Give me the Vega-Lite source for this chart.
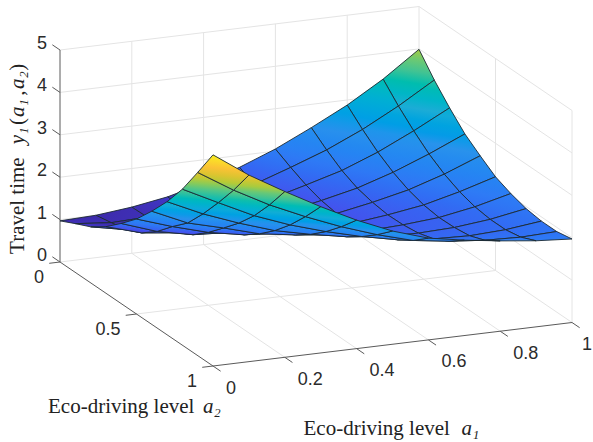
{"$schema":"https://vega.github.io/schema/vega-lite/v6.json","width":593,"height":442,"padding":0,"autosize":"none","background":"white","config":{"view":{"stroke":null}},
"datasets":{"grid":[
{"p":110,"a1":1.0,"a2":0.0,"z":3.99},{"p":111,"a1":1.0,"a2":0.1,"z":3.51},{"p":112,"a1":1.0,"a2":0.2,"z":3.10},{"p":113,"a1":1.0,"a2":0.3,"z":2.73},{"p":114,"a1":1.0,"a2":0.4,"z":2.46},{"p":115,"a1":1.0,"a2":0.5,"z":2.21},{"p":116,"a1":1.0,"a2":0.6,"z":2.06},{"p":117,"a1":1.0,"a2":0.7,"z":1.95},{"p":118,"a1":1.0,"a2":0.8,"z":1.90},{"p":119,"a1":1.0,"a2":0.9,"z":1.90},{"p":120,"a1":1.0,"a2":1.0,"z":1.97},
{"p":99,"a1":0.9,"a2":0.0,"z":3.39},{"p":100,"a1":0.9,"a2":0.1,"z":3.00},{"p":101,"a1":0.9,"a2":0.2,"z":2.66},{"p":102,"a1":0.9,"a2":0.3,"z":2.36},{"p":103,"a1":0.9,"a2":0.4,"z":2.13},{"p":104,"a1":0.9,"a2":0.5,"z":1.96},{"p":105,"a1":0.9,"a2":0.6,"z":1.85},{"p":106,"a1":0.9,"a2":0.7,"z":1.80},{"p":107,"a1":0.9,"a2":0.8,"z":1.80},{"p":108,"a1":0.9,"a2":0.9,"z":1.87},{"p":109,"a1":0.9,"a2":1.0,"z":2.03},
{"p":88,"a1":0.8,"a2":0.0,"z":2.88},{"p":89,"a1":0.8,"a2":0.1,"z":2.55},{"p":90,"a1":0.8,"a2":0.2,"z":2.26},{"p":91,"a1":0.8,"a2":0.3,"z":2.03},{"p":92,"a1":0.8,"a2":0.4,"z":1.86},{"p":93,"a1":0.8,"a2":0.5,"z":1.75},{"p":94,"a1":0.8,"a2":0.6,"z":1.70},{"p":95,"a1":0.8,"a2":0.7,"z":1.71},{"p":96,"a1":0.8,"a2":0.8,"z":1.76},{"p":97,"a1":0.8,"a2":0.9,"z":1.90},{"p":98,"a1":0.8,"a2":1.0,"z":2.13},
{"p":77,"a1":0.7,"a2":0.0,"z":2.45},{"p":78,"a1":0.7,"a2":0.1,"z":2.17},{"p":79,"a1":0.7,"a2":0.2,"z":1.93},{"p":80,"a1":0.7,"a2":0.3,"z":1.76},{"p":81,"a1":0.7,"a2":0.4,"z":1.67},{"p":82,"a1":0.7,"a2":0.5,"z":1.62},{"p":83,"a1":0.7,"a2":0.6,"z":1.63},{"p":84,"a1":0.7,"a2":0.7,"z":1.68},{"p":85,"a1":0.7,"a2":0.8,"z":1.79},{"p":86,"a1":0.7,"a2":0.9,"z":1.98},{"p":87,"a1":0.7,"a2":1.0,"z":2.25},
{"p":66,"a1":0.6,"a2":0.0,"z":2.05},{"p":67,"a1":0.6,"a2":0.1,"z":1.86},{"p":68,"a1":0.6,"a2":0.2,"z":1.69},{"p":69,"a1":0.6,"a2":0.3,"z":1.57},{"p":70,"a1":0.6,"a2":0.4,"z":1.51},{"p":71,"a1":0.6,"a2":0.5,"z":1.52},{"p":72,"a1":0.6,"a2":0.6,"z":1.59},{"p":73,"a1":0.6,"a2":0.7,"z":1.70},{"p":74,"a1":0.6,"a2":0.8,"z":1.87},{"p":75,"a1":0.6,"a2":0.9,"z":2.10},{"p":76,"a1":0.6,"a2":1.0,"z":2.40},
{"p":55,"a1":0.5,"a2":0.0,"z":1.72},{"p":56,"a1":0.5,"a2":0.1,"z":1.57},{"p":57,"a1":0.5,"a2":0.2,"z":1.46},{"p":58,"a1":0.5,"a2":0.3,"z":1.40},{"p":59,"a1":0.5,"a2":0.4,"z":1.40},{"p":60,"a1":0.5,"a2":0.5,"z":1.47},{"p":61,"a1":0.5,"a2":0.6,"z":1.60},{"p":62,"a1":0.5,"a2":0.7,"z":1.80},{"p":63,"a1":0.5,"a2":0.8,"z":2.05},{"p":64,"a1":0.5,"a2":0.9,"z":2.34},{"p":65,"a1":0.5,"a2":1.0,"z":2.67},
{"p":44,"a1":0.4,"a2":0.0,"z":1.45},{"p":45,"a1":0.4,"a2":0.1,"z":1.35},{"p":46,"a1":0.4,"a2":0.2,"z":1.30},{"p":47,"a1":0.4,"a2":0.3,"z":1.31},{"p":48,"a1":0.4,"a2":0.4,"z":1.37},{"p":49,"a1":0.4,"a2":0.5,"z":1.50},{"p":50,"a1":0.4,"a2":0.6,"z":1.70},{"p":51,"a1":0.4,"a2":0.7,"z":1.96},{"p":52,"a1":0.4,"a2":0.8,"z":2.27},{"p":53,"a1":0.4,"a2":0.9,"z":2.63},{"p":54,"a1":0.4,"a2":1.0,"z":3.03},
{"p":33,"a1":0.3,"a2":0.0,"z":1.23},{"p":34,"a1":0.3,"a2":0.1,"z":1.19},{"p":35,"a1":0.3,"a2":0.2,"z":1.19},{"p":36,"a1":0.3,"a2":0.3,"z":1.23},{"p":37,"a1":0.3,"a2":0.4,"z":1.37},{"p":38,"a1":0.3,"a2":0.5,"z":1.56},{"p":39,"a1":0.3,"a2":0.6,"z":1.83},{"p":40,"a1":0.3,"a2":0.7,"z":2.15},{"p":41,"a1":0.3,"a2":0.8,"z":2.53},{"p":42,"a1":0.3,"a2":0.9,"z":2.97},{"p":43,"a1":0.3,"a2":1.0,"z":3.45},
{"p":22,"a1":0.2,"a2":0.0,"z":1.09},{"p":23,"a1":0.2,"a2":0.1,"z":1.10},{"p":24,"a1":0.2,"a2":0.2,"z":1.13},{"p":25,"a1":0.2,"a2":0.3,"z":1.22},{"p":26,"a1":0.2,"a2":0.4,"z":1.42},{"p":27,"a1":0.2,"a2":0.5,"z":1.72},{"p":28,"a1":0.2,"a2":0.6,"z":2.07},{"p":29,"a1":0.2,"a2":0.7,"z":2.43},{"p":30,"a1":0.2,"a2":0.8,"z":2.85},{"p":31,"a1":0.2,"a2":0.9,"z":3.35},{"p":32,"a1":0.2,"a2":1.0,"z":3.91},
{"p":11,"a1":0.1,"a2":0.0,"z":1.00},{"p":12,"a1":0.1,"a2":0.1,"z":1.07},{"p":13,"a1":0.1,"a2":0.2,"z":1.15},{"p":14,"a1":0.1,"a2":0.3,"z":1.32},{"p":15,"a1":0.1,"a2":0.4,"z":1.60},{"p":16,"a1":0.1,"a2":0.5,"z":1.96},{"p":17,"a1":0.1,"a2":0.6,"z":2.29},{"p":18,"a1":0.1,"a2":0.7,"z":2.75},{"p":19,"a1":0.1,"a2":0.8,"z":3.26},{"p":20,"a1":0.1,"a2":0.9,"z":3.80},{"p":21,"a1":0.1,"a2":1.0,"z":4.40},
{"p":0,"a1":0.0,"a2":0.0,"z":0.97},{"p":1,"a1":0.0,"a2":0.1,"z":1.15},{"p":2,"a1":0.0,"a2":0.2,"z":1.32},{"p":3,"a1":0.0,"a2":0.3,"z":1.57},{"p":4,"a1":0.0,"a2":0.4,"z":1.89},{"p":5,"a1":0.0,"a2":0.5,"z":2.24},{"p":6,"a1":0.0,"a2":0.6,"z":2.67},{"p":7,"a1":0.0,"a2":0.7,"z":3.14},{"p":8,"a1":0.0,"a2":0.8,"z":3.68},{"p":9,"a1":0.0,"a2":0.9,"z":4.32},{"p":10,"a1":0.0,"a2":1.0,"z":4.98}
],
"lines":[
{"kind":"grid","a1":0.2,"a2":0,"z":0,"b1":0.2,"b2":1,"bz":0},{"kind":"grid","a1":0.4,"a2":0,"z":0,"b1":0.4,"b2":1,"bz":0},{"kind":"grid","a1":0.6,"a2":0,"z":0,"b1":0.6,"b2":1,"bz":0},{"kind":"grid","a1":0.8,"a2":0,"z":0,"b1":0.8,"b2":1,"bz":0},{"kind":"grid","a1":1,"a2":0,"z":0,"b1":1,"b2":1,"bz":0},
{"kind":"grid","a1":0,"a2":0,"z":0,"b1":1,"b2":0,"bz":0},{"kind":"grid","a1":0,"a2":0.5,"z":0,"b1":1,"b2":0.5,"bz":0},
{"kind":"grid","a1":0.2,"a2":0,"z":0,"b1":0.2,"b2":0,"bz":5},{"kind":"grid","a1":0.4,"a2":0,"z":0,"b1":0.4,"b2":0,"bz":5},{"kind":"grid","a1":0.6,"a2":0,"z":0,"b1":0.6,"b2":0,"bz":5},{"kind":"grid","a1":0.8,"a2":0,"z":0,"b1":0.8,"b2":0,"bz":5},{"kind":"grid","a1":1,"a2":0,"z":0,"b1":1,"b2":0,"bz":5},
{"kind":"grid","a1":1,"a2":0.5,"z":0,"b1":1,"b2":0.5,"bz":5},{"kind":"grid","a1":1,"a2":1,"z":0,"b1":1,"b2":1,"bz":5},
{"kind":"grid","a1":0,"a2":0,"z":1,"b1":1,"b2":0,"bz":1},{"kind":"grid","a1":0,"a2":0,"z":2,"b1":1,"b2":0,"bz":2},{"kind":"grid","a1":0,"a2":0,"z":3,"b1":1,"b2":0,"bz":3},{"kind":"grid","a1":0,"a2":0,"z":4,"b1":1,"b2":0,"bz":4},{"kind":"grid","a1":0,"a2":0,"z":5,"b1":1,"b2":0,"bz":5},
{"kind":"grid","a1":1,"a2":0,"z":1,"b1":1,"b2":1,"bz":1},{"kind":"grid","a1":1,"a2":0,"z":2,"b1":1,"b2":1,"bz":2},{"kind":"grid","a1":1,"a2":0,"z":3,"b1":1,"b2":1,"bz":3},{"kind":"grid","a1":1,"a2":0,"z":4,"b1":1,"b2":1,"bz":4},{"kind":"grid","a1":1,"a2":0,"z":5,"b1":1,"b2":1,"bz":5},
{"kind":"axis","a1":0,"a2":0,"z":0,"b1":0,"b2":0,"bz":5},{"kind":"axis","a1":0,"a2":0,"z":0,"b1":0,"b2":1,"bz":0},{"kind":"axis","a1":0,"a2":1,"z":0,"b1":1,"b2":1,"bz":0},
{"kind":"axis","a1":0,"a2":0,"z":0,"b1":0,"b2":-0.05,"bz":0},{"kind":"axis","a1":0,"a2":0,"z":1,"b1":0,"b2":-0.05,"bz":1},{"kind":"axis","a1":0,"a2":0,"z":2,"b1":0,"b2":-0.05,"bz":2},{"kind":"axis","a1":0,"a2":0,"z":3,"b1":0,"b2":-0.05,"bz":3},{"kind":"axis","a1":0,"a2":0,"z":4,"b1":0,"b2":-0.05,"bz":4},{"kind":"axis","a1":0,"a2":0,"z":5,"b1":0,"b2":-0.05,"bz":5},
{"kind":"axis","a1":0,"a2":0,"z":0,"b1":-0.03,"b2":0,"bz":0},{"kind":"axis","a1":0,"a2":0.5,"z":0,"b1":-0.03,"b2":0.5,"bz":0},{"kind":"axis","a1":0,"a2":1,"z":0,"b1":-0.03,"b2":1,"bz":0},
{"kind":"axis","a1":0,"a2":1,"z":0,"b1":0,"b2":1.05,"bz":0},{"kind":"axis","a1":0.2,"a2":1,"z":0,"b1":0.2,"b2":1.05,"bz":0},{"kind":"axis","a1":0.4,"a2":1,"z":0,"b1":0.4,"b2":1.05,"bz":0},{"kind":"axis","a1":0.6,"a2":1,"z":0,"b1":0.6,"b2":1.05,"bz":0},{"kind":"axis","a1":0.8,"a2":1,"z":0,"b1":0.8,"b2":1.05,"bz":0},{"kind":"axis","a1":1,"a2":1,"z":0,"b1":1,"b2":1.05,"bz":0}
],
"zlabels":[{"a1":0,"a2":0,"z":0,"t":"0"},{"a1":0,"a2":0,"z":1,"t":"1"},{"a1":0,"a2":0,"z":2,"t":"2"},{"a1":0,"a2":0,"z":3,"t":"3"},{"a1":0,"a2":0,"z":4,"t":"4"},{"a1":0,"a2":0,"z":5,"t":"5"}],
"a2labels":[{"a1":0,"a2":0,"z":0,"t":"0"},{"a1":0,"a2":0.5,"z":0,"t":"0.5"},{"a1":0,"a2":1,"z":0,"t":"1"}],
"a1labels":[{"a1":0,"a2":1,"z":0,"t":"0"},{"a1":0.2,"a2":1,"z":0,"t":"0.2"},{"a1":0.4,"a2":1,"z":0,"t":"0.4"},{"a1":0.6,"a2":1,"z":0,"t":"0.6"},{"a1":0.8,"a2":1,"z":0,"t":"0.8"}],
"a1last":[{"a1":1,"a2":1,"z":0,"t":"1"}],
"t1":[{"a1":0.5,"a2":1,"z":0,"t":"Eco-driving level"}],
"t1i":[{"a1":0.5,"a2":1,"z":0,"t":"a₁"}],
"t2":[{"a1":0,"a2":1,"z":0,"t":"Eco-driving level"}],
"t2i":[{"a1":0,"a2":1,"z":0,"t":"a₂"}],
"t3":[{"a1":0,"a2":0,"z":0.19,"t":"Travel time"},{"a1":0,"a2":0,"z":3.23,"t":"("},{"a1":0,"a2":0,"z":3.92,"t":","},{"a1":0,"a2":0,"z":4.51,"t":")"}],
"t3i":[{"a1":0,"a2":0,"z":2.78,"t":"y₁"},{"a1":0,"a2":0,"z":3.42,"t":"a₁"},{"a1":0,"a2":0,"z":4.08,"t":"a₂"}]
},
"encoding":{"x":{"field":"sx","type":"quantitative","scale":{"domain":[0,593],"range":[0,593],"nice":false,"zero":false},"axis":null},"y":{"field":"sy","type":"quantitative","scale":{"domain":[442,0],"nice":false,"zero":false},"axis":null}},
"layer":[
{"data":{"name":"zlabels"},"transform":[{"calculate":"60+359*datum.a1+153*datum.a2","as":"sx"},{"calculate":"262-43.5*datum.a1+104*datum.a2-42.4*datum.z","as":"sy"},{"calculate":"datum.z+0.5","as":"zv"}],"mark":{"type":"point","opacity":0},"encoding":{"fill":{"field":"zv","type":"quantitative","legend":null,"scale":{"domain":[0.97,1.25,1.5,2,2.5,3,3.5,3.75,4,4.45,4.98],"range":["#3c28a6","#4038c8","#4550ec","#2e7bf5","#2a92ec","#1cacd6","#2fc0a0","#62c77c","#b0cb38","#f9bd38","#f8f020"]}}}},
{"data":{"name":"lines"},"transform":[{"filter":"datum.kind=='grid'"},{"calculate":"60+359*datum.a1+153*datum.a2","as":"sx"},{"calculate":"262-43.5*datum.a1+104*datum.a2-42.4*datum.z","as":"sy"},{"calculate":"60+359*datum.b1+153*datum.b2","as":"ex"},{"calculate":"262-43.5*datum.b1+104*datum.b2-42.4*datum.bz","as":"ey"}],"mark":{"type":"rule","stroke":"#e4e4e4","strokeWidth":1},"encoding":{"x2":{"field":"ex"},"y2":{"field":"ey"}}},
{"data":{"name":"lines"},"transform":[{"filter":"datum.kind=='axis'"},{"calculate":"60+359*datum.a1+153*datum.a2","as":"sx"},{"calculate":"262-43.5*datum.a1+104*datum.a2-42.4*datum.z","as":"sy"},{"calculate":"60+359*datum.b1+153*datum.b2","as":"ex"},{"calculate":"262-43.5*datum.b1+104*datum.b2-42.4*datum.bz","as":"ey"}],"mark":{"type":"rule","stroke":"#5a5a5a","strokeWidth":1},"encoding":{"x2":{"field":"ex"},"y2":{"field":"ey"}}},
{"data":{"name":"grid"},"transform":[{"filter":"datum.a1<1 && datum.a2<1"},
{"calculate":"datum.p+11","as":"pb"},{"calculate":"datum.p+12","as":"pc"},{"calculate":"datum.p+1","as":"pd"},
{"lookup":"pb","from":{"data":{"name":"grid"},"key":"p","fields":["z"]},"as":["zB"]},
{"lookup":"pc","from":{"data":{"name":"grid"},"key":"p","fields":["z"]},"as":["zC"]},
{"lookup":"pd","from":{"data":{"name":"grid"},"key":"p","fields":["z"]},"as":["zD"]},
{"calculate":"((datum.zB-datum.z)+(datum.zC-datum.zD))/2","as":"dz1"},
{"calculate":"((datum.zD-datum.z)+(datum.zC-datum.zB))/2","as":"dz2"},
{"calculate":"-4.35-42.4*datum.dz1","as":"v1"},{"calculate":"10.4-42.4*datum.dz2","as":"v2"},
{"calculate":"35.9*datum.v2-15.3*datum.v1","as":"det"},
{"calculate":"(datum.dz1*datum.v2-datum.dz2*datum.v1)/datum.det","as":"gx"},
{"calculate":"(35.9*datum.dz2-15.3*datum.dz1)/datum.det","as":"gy"},
{"calculate":"(datum.z+datum.zB+datum.zC+datum.zD)/4","as":"zc"},
{"calculate":"max(datum.z,datum.zB,datum.zC,datum.zD)","as":"zhi"},
{"calculate":"min(datum.z,datum.zB,datum.zC,datum.zD)","as":"zlo"},
{"calculate":"[0,1,2,3,4]","as":"k"},{"flatten":["k"]},
{"calculate":"[datum.z,datum.zB,datum.zC,datum.zD,datum.z][datum.k]","as":"vz"},
{"calculate":"60+359*(datum.a1+[0,0.1,0.1,0,0][datum.k])+153*(datum.a2+[0,0,0.1,0.1,0][datum.k])","as":"sx"},
{"calculate":"262-43.5*(datum.a1+[0,0.1,0.1,0,0][datum.k])+104*(datum.a2+[0,0,0.1,0.1,0][datum.k])-42.4*datum.vz","as":"sy"},
{"joinaggregate":[{"op":"min","field":"sy","as":"symin"},{"op":"max","field":"sy","as":"symax"}],"groupby":["p"]},
{"calculate":"datum.gx*51.2","as":"du"},{"calculate":"datum.gy*(datum.symax-datum.symin)","as":"dw"},
{"calculate":"max(datum.du*datum.du+datum.dw*datum.dw,0.000001)","as":"nn"}],
"mark":{"type":"line","strokeWidth":0.9,"strokeJoin":"round","interpolate":"linear"},
"encoding":{"detail":{"field":"p"},"order":{"field":"k","type":"quantitative"},"stroke":{"value":"#1c2a33"},"fill":{"value":{"expr":"{gradient:'linear',x1:0.5+datum.du*(datum.zhi-datum.zc)/datum.nn,y1:0.5+datum.dw*(datum.zhi-datum.zc)/datum.nn,x2:0.5+datum.du*(datum.zlo-datum.zc)/datum.nn,y2:0.5+datum.dw*(datum.zlo-datum.zc)/datum.nn,stops:[{offset:0,color:scale('fill',datum.zhi)},{offset:0.2,color:scale('fill',datum.zhi+(datum.zlo-datum.zhi)*0.2)},{offset:0.4,color:scale('fill',datum.zhi+(datum.zlo-datum.zhi)*0.4)},{offset:0.6,color:scale('fill',datum.zhi+(datum.zlo-datum.zhi)*0.6)},{offset:0.8,color:scale('fill',datum.zhi+(datum.zlo-datum.zhi)*0.8)},{offset:1,color:scale('fill',datum.zlo)}]}"}}}},
{"data":{"name":"zlabels"},"transform":[{"calculate":"60+359*datum.a1+153*datum.a2","as":"sx"},{"calculate":"262-43.5*datum.a1+104*datum.a2-42.4*datum.z","as":"sy"}],"mark":{"type":"text","font":"Liberation Sans","fontSize":18,"fill":"#2b2b2b","align":"center","baseline":"middle","dx":-18,"dy":-6},"encoding":{"text":{"field":"t"}}},
{"data":{"name":"a2labels"},"transform":[{"calculate":"60+359*datum.a1+153*datum.a2","as":"sx"},{"calculate":"262-43.5*datum.a1+104*datum.a2-42.4*datum.z","as":"sy"}],"mark":{"type":"text","font":"Liberation Sans","fontSize":18,"fill":"#2b2b2b","align":"right","baseline":"middle","dx":-16,"dy":16},"encoding":{"text":{"field":"t"}}},
{"data":{"name":"a1labels"},"transform":[{"calculate":"60+359*datum.a1+153*datum.a2","as":"sx"},{"calculate":"262-43.5*datum.a1+104*datum.a2-42.4*datum.z","as":"sy"}],"mark":{"type":"text","font":"Liberation Sans","fontSize":18,"fill":"#2b2b2b","align":"left","baseline":"middle","dx":13,"dy":22.5},"encoding":{"text":{"field":"t"}}},
{"data":{"name":"a1last"},"transform":[{"calculate":"60+359*datum.a1+153*datum.a2","as":"sx"},{"calculate":"262-43.5*datum.a1+104*datum.a2-42.4*datum.z","as":"sy"}],"mark":{"type":"text","font":"Liberation Sans","fontSize":18,"fill":"#2b2b2b","align":"right","baseline":"middle","dx":20,"dy":22},"encoding":{"text":{"field":"t"}}},
{"data":{"name":"t1"},"transform":[{"calculate":"60+359*datum.a1+153*datum.a2","as":"sx"},{"calculate":"262-43.5*datum.a1+104*datum.a2-42.4*datum.z","as":"sy"}],"mark":{"type":"text","font":"Liberation Serif","fontSize":21,"fill":"#222222","align":"left","baseline":"alphabetic","dx":-89,"dy":91},"encoding":{"text":{"field":"t"}}},
{"data":{"name":"t1i"},"transform":[{"calculate":"60+359*datum.a1+153*datum.a2","as":"sx"},{"calculate":"262-43.5*datum.a1+104*datum.a2-42.4*datum.z","as":"sy"}],"mark":{"type":"text","font":"Liberation Serif","fontStyle":"italic","fontSize":21,"fill":"#222222","align":"left","baseline":"alphabetic","dx":69,"dy":91},"encoding":{"text":{"field":"t"}}},
{"data":{"name":"t2"},"transform":[{"calculate":"60+359*datum.a1+153*datum.a2","as":"sx"},{"calculate":"262-43.5*datum.a1+104*datum.a2-42.4*datum.z","as":"sy"}],"mark":{"type":"text","font":"Liberation Serif","fontSize":21,"fill":"#222222","align":"left","baseline":"alphabetic","dx":-165,"dy":46.7},"encoding":{"text":{"field":"t"}}},
{"data":{"name":"t2i"},"transform":[{"calculate":"60+359*datum.a1+153*datum.a2","as":"sx"},{"calculate":"262-43.5*datum.a1+104*datum.a2-42.4*datum.z","as":"sy"}],"mark":{"type":"text","font":"Liberation Serif","fontStyle":"italic","fontSize":21,"fill":"#222222","align":"left","baseline":"alphabetic","dx":-10,"dy":46.7},"encoding":{"text":{"field":"t"}}},
{"data":{"name":"t3"},"transform":[{"calculate":"60+359*datum.a1+153*datum.a2","as":"sx"},{"calculate":"262-43.5*datum.a1+104*datum.a2-42.4*datum.z","as":"sy"}],"mark":{"type":"text","font":"Liberation Serif","fontSize":21,"fill":"#222222","align":"left","baseline":"alphabetic","angle":270,"dx":0,"dy":-36},"encoding":{"text":{"field":"t"}}},
{"data":{"name":"t3i"},"transform":[{"calculate":"60+359*datum.a1+153*datum.a2","as":"sx"},{"calculate":"262-43.5*datum.a1+104*datum.a2-42.4*datum.z","as":"sy"}],"mark":{"type":"text","font":"Liberation Serif","fontStyle":"italic","fontSize":21,"fill":"#222222","align":"left","baseline":"alphabetic","angle":270,"dx":0,"dy":-36},"encoding":{"text":{"field":"t"}}}
]}
